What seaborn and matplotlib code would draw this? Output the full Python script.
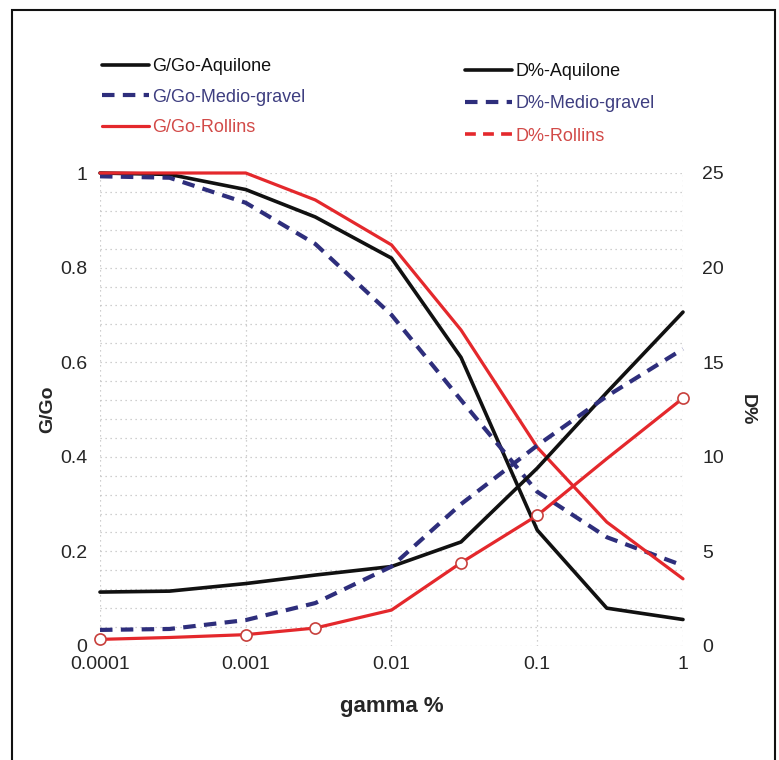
import numpy as np
import pandas as pd
import matplotlib as mpl
mpl.use('Agg')
import matplotlib.pyplot as plt
import seaborn as sns
from matplotlib.lines import Line2D
from matplotlib.patches import Rectangle
from matplotlib.ticker import MultipleLocator, FixedLocator, NullFormatter

sns.set_style('white')
plt.rcParams['font.family'] = ['Liberation Sans', 'DejaVu Sans']

# shear strain (gamma %) at which the curves are read
gamma = [0.0001, 0.0003, 0.001, 0.003, 0.01, 0.03, 0.1, 0.3, 1]

# G/Go curves (left axis)
gg_aquilone = [1.0, 0.997, 0.965, 0.907, 0.82, 0.61, 0.245, 0.08, 0.056]
gg_medio = [0.993, 0.99, 0.937, 0.85, 0.70, 0.52, 0.326, 0.23, 0.17]
gg_rollins = [1.0, 1.0, 1.0, 0.943, 0.848, 0.668, 0.42, 0.262, 0.142]

# damping D% curves (right axis)
d_aquilone = [2.85, 2.9, 3.3, 3.75, 4.2, 5.5, 9.4, 13.4, 17.65]
d_medio = [0.85, 0.9, 1.37, 2.27, 4.2, 7.5, 10.6, 13.2, 15.7]
d_rollins = [0.35, 0.45, 0.6, 0.95, 1.9, 4.4, 6.9, 9.9, 13.1]
rollins_marks = [0, 2, 3, 5, 6, 8]

g_labels = ['G/Go-Aquilone', 'G/Go-Medio-gravel', 'G/Go-Rollins']
d_labels = ['D%-Aquilone', 'D%-Medio-gravel', 'D%-Rollins']
x_ticks = [0.0001, 0.001, 0.01, 0.1, 1]
x_ticklabels = ['0.0001', '0.001', '0.01', '0.1', '1']

c_black = '#111111'
c_navy = '#2e2e7c'
c_red = '#e4282c'

fig = plt.figure(figsize=(7.79, 7.6), dpi=100)
ax = fig.add_axes([100 / 779, 1 - 646 / 760, 583 / 779, 473 / 760])
ax.set_xscale('log')

sns.lineplot(x=gamma, y=gg_aquilone, ax=ax, color=c_black, lw=2.6, clip_on=False)
sns.lineplot(x=gamma, y=gg_medio, ax=ax, color=c_navy, lw=3.0,
             linestyle=(0, (3, 2)), clip_on=False)
sns.lineplot(x=gamma, y=gg_rollins, ax=ax, color=c_red, lw=2.3, clip_on=False)

ax.set_xlim(0.0001, 1)
ax.set_ylim(0, 1)
ax.set_yticks([0, 0.2, 0.4, 0.6, 0.8, 1])
ax.set_yticklabels(['0', '0.2', '0.4', '0.6', '0.8', '1'])
ax.yaxis.set_minor_locator(MultipleLocator(0.04))
ax.xaxis.set_major_locator(FixedLocator(x_ticks))
ax.set_xticklabels(x_ticklabels)
ax.xaxis.set_minor_formatter(NullFormatter())
ax.xaxis.set_minor_locator(FixedLocator([]))
ax.grid(which='both', axis='y', color='#c0c0c0', lw=0.9, linestyle=(0, (1, 3)))
ax.grid(which='major', axis='x', color='#c0c0c0', lw=0.9, linestyle=(0, (1, 3)))
ax.tick_params(axis='both', which='both', length=0, labelsize=14)
ax.tick_params(axis='y', pad=9)
ax.tick_params(axis='x', pad=7)
ax.set_xlabel('gamma %', fontsize=16, fontweight='bold', labelpad=17)
ax.set_ylabel('G/Go', fontsize=14, fontweight='bold', labelpad=3)
for s in ax.spines.values():
    s.set_visible(False)

ax2 = ax.twinx()
sns.lineplot(x=gamma, y=d_aquilone, ax=ax2, color=c_black, lw=2.6, clip_on=False)
sns.lineplot(x=gamma, y=d_medio, ax=ax2, color=c_navy, lw=3.0,
             linestyle=(0, (3, 2)), clip_on=False)
sns.lineplot(x=gamma, y=d_rollins, ax=ax2, color=c_red, lw=2.3, marker='o',
             markevery=rollins_marks, markersize=8, markerfacecolor='white',
             markeredgecolor='#c8403c', markeredgewidth=1.2, clip_on=False)
ax2.set_ylim(0, 25)
ax2.set_yticks([0, 5, 10, 15, 20, 25])
ax2.tick_params(axis='y', length=0, labelsize=14, pad=14)
ax2.set_ylabel('D%', fontsize=14, fontweight='bold', rotation=270, labelpad=23)
ax2.grid(False)
for s in ax2.spines.values():
    s.set_visible(False)

# legends above the plot
g_handles = [Line2D([], [], color=c_black, lw=2.6),
             Line2D([], [], color=c_navy, lw=3.0, linestyle=(0, (3, 2))),
             Line2D([], [], color=c_red, lw=2.3)]
d_handles = [Line2D([], [], color=c_black, lw=2.6),
             Line2D([], [], color=c_navy, lw=3.0, linestyle=(0, (3, 2))),
             Line2D([], [], color=c_red, lw=2.6, linestyle=(0, (3, 2)))]
fig.legend(handles=g_handles, labels=g_labels, loc='upper left',
           bbox_to_anchor=(102 / 779, 1 - 58 / 760), frameon=False, fontsize=13,
           labelcolor=[c_black, '#3e3e80', '#d24a48'], handlelength=2.6,
           handletextpad=0.2, labelspacing=0.75, borderpad=0, borderaxespad=0)
fig.legend(handles=d_handles, labels=d_labels, loc='upper left',
           bbox_to_anchor=(465 / 779, 1 - 63 / 760), frameon=False, fontsize=13,
           labelcolor=[c_black, '#3e3e80', '#d24a48'], handlelength=2.6,
           handletextpad=0.2, labelspacing=0.85, borderpad=0, borderaxespad=0)

# outer frame of the figure
fig.patches.append(Rectangle((12 / 779, -0.02), 763 / 779, 1.02 - 10 / 760,
                             transform=fig.transFigure, fill=False,
                             edgecolor='#111111', lw=1.5))

fig.savefig('out.png', dpi=100)
